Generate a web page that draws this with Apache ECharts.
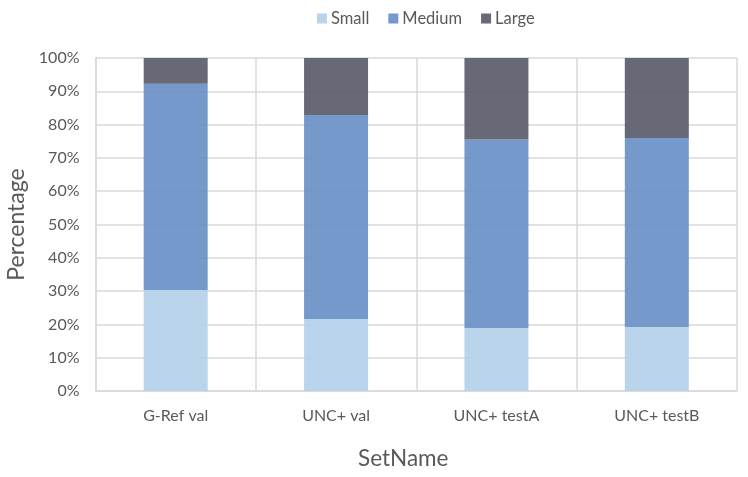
<!DOCTYPE html>
<html><head><meta charset="utf-8">
<script src="https://cdn.jsdelivr.net/npm/echarts@6/dist/echarts.min.js"></script>
<style>html,body{margin:0;padding:0;background:#fff}#c{width:748px;height:477px}</style>
</head><body><div id="c"></div>
<script>
const categories = ['G-Ref val', 'UNC+ val', 'UNC+ testA', 'UNC+ testB'];
const small = [30.3, 21.6, 18.9, 19.2];
const medium = [62.0, 61.3, 56.6, 56.8];
const large = [7.7, 17.1, 24.5, 24.0];
const seriesNames = ['Small', 'Medium', 'Large'];
const yTicks = [0, 10, 20, 30, 40, 50, 60, 70, 80, 90, 100];

const font = 'Lato, "Open Sans", sans-serif';
const colors = ['#b4d0ea', '#6890c6', '#5a5c6a'];
const chart = echarts.init(document.getElementById('c'));
const mk = (name, data, i) => ({
  name, type: 'bar', stack: 'total', data, barWidth: 64,
  itemStyle: { color: colors[i], opacity: 0.92 }
});
chart.setOption({
  animation: false,
  textStyle: { fontFamily: font },
  legend: {
    top: 5, left: 312, itemWidth: 10, itemHeight: 10, itemGap: 19,
    icon: 'rect',
    textStyle: { fontSize: 16.5, color: '#595959', fontFamily: font, padding: [0, 0, 0, -1] },
    data: seriesNames
  },
  grid: { left: 95.5, right: 11, top: 58, bottom: 86, containLabel: false, outerBoundsMode: 'none' },
  xAxis: {
    type: 'category', data: categories,
    name: 'SetName', nameLocation: 'middle', nameGap: 56,
    nameTextStyle: { fontSize: 22.5, color: '#595959', fontFamily: font, padding: [0, 26, 0, 0] },
    axisLine: { lineStyle: { color: '#d9d9d9', width: 1.5 } },
    axisTick: { show: false },
    axisLabel: { fontSize: 16, color: '#595959', margin: 17, fontFamily: font },
    splitLine: { show: true, lineStyle: { color: '#d9d9d9', width: 1.5 } }
  },
  yAxis: {
    type: 'value', min: 0, max: 100, interval: 10,
    name: 'Percentage', nameLocation: 'middle', nameGap: 67,
    nameTextStyle: { fontSize: 23, color: '#595959', fontFamily: font },
    axisLine: { show: true, lineStyle: { color: '#d9d9d9', width: 1.5 } },
    axisTick: { show: false },
    axisLabel: { fontSize: 16, color: '#595959', margin: 16, fontFamily: font,
      formatter: v => yTicks.includes(v) ? v + '%' : '' },
    splitLine: { lineStyle: { color: '#d9d9d9', width: 1.5 } }
  },
  series: [mk('Small', small, 0), mk('Medium', medium, 1), mk('Large', large, 2)]
});
</script></body></html>
